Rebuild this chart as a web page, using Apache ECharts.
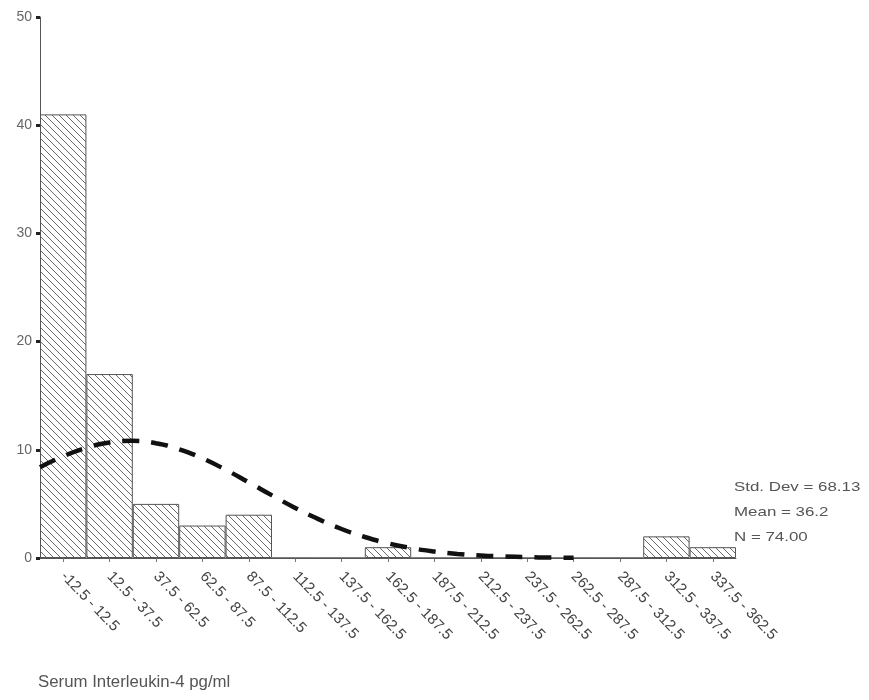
<!DOCTYPE html>
<html>
<head>
<meta charset="utf-8">
<script src="https://cdn.jsdelivr.net/npm/echarts@6/dist/echarts.min.js"></script>
<style>html,body{margin:0;padding:0;background:#fff;}#c{width:869px;height:700px;}</style>
</head>
<body>
<div id="c"></div>
<script>
const categories = ['-12.5 - 12.5','12.5 - 37.5','37.5 - 62.5','62.5 - 87.5','87.5 - 112.5','112.5 - 137.5','137.5 - 162.5','162.5 - 187.5','187.5 - 212.5','212.5 - 237.5','237.5 - 262.5','262.5 - 287.5','287.5 - 312.5','312.5 - 337.5','337.5 - 362.5'];
const counts = [41, 17, 5, 3, 4, 0, 0, 1, 0, 0, 0, 0, 0, 2, 1];
const curveX = [-12.5, 0, 12.5, 25, 37.5, 50, 62.5, 75, 87.5, 100, 112.5, 125, 137.5, 150, 162.5, 175, 187.5, 200, 212.5, 225, 237.5, 250, 262.5, 275];
const curveY = [8.39, 9.40, 10.19, 10.68, 10.83, 10.61, 10.05, 9.21, 8.16, 6.99, 5.79, 4.63, 3.59, 2.68, 1.94, 1.36, 0.92, 0.60, 0.38, 0.23, 0.14, 0.08, 0.04, 0.02];
const yTicks = [0, 10, 20, 30, 40, 50];
const statLines = ['Std. Dev = 68.13', 'Mean = 36.2', 'N = 74.00'];
const xTitle = 'Serum Interleukin-4 pg/ml';

(function () {
const pc = document.createElement('canvas');
pc.width = 7; pc.height = 7;
const g = pc.getContext('2d');
g.fillStyle = '#ffffff'; g.fillRect(0,0,7,7);
g.strokeStyle = '#6a6a6a'; g.lineWidth = 1;
g.beginPath();
g.moveTo(-1,-1); g.lineTo(8,8);
g.moveTo(-1,6); g.lineTo(1,8);
g.moveTo(6,-1); g.lineTo(8,1);
g.stroke();

const chart = echarts.init(document.getElementById('c'), null, {renderer:'canvas'});
const gl = 40, gr = 133, gt = 17, gb = 142;
const font = 'Liberation Sans, Arial, sans-serif';
const txt = (s, x, y, size, sx) => ({type: 'text', left: x, top: y, scaleX: sx, style: {text: s, fontSize: size, fill: '#555', fontFamily: font}});
chart.setOption({
  animation: false,
  backgroundColor: '#fff',
  grid: {left: gl, right: gr, top: gt, bottom: gb, containLabel: false},
  xAxis: [{
    type: 'category', data: categories, boundaryGap: true,
    axisLine: {show: true, onZero: false, lineStyle: {color: '#555', width: 1}},
    axisTick: {show: true, alignWithLabel: true, length: 4, lineStyle: {color: '#777'}},
    axisLabel: {rotate: -46, margin: 16, fontSize: 15, color: '#444', fontFamily: font, interval: 0},
    splitLine: {show: false}
  }, {
    type: 'value', min: -12.5, max: 362.5, show: false
  }],
  yAxis: {
    type: 'value', min: 0, max: 50, interval: 10,
    axisLine: {show: true, onZero: false, lineStyle: {color: '#555', width: 1}},
    axisTick: {show: true, length: 4, lineStyle: {color: '#222', width: 3}},
    axisLabel: {fontSize: 14, color: '#666', margin: 8, fontFamily: font,
      formatter: v => yTicks.includes(v) ? String(v) : ''},
    splitLine: {show: false}
  },
  series: [{
    type: 'bar', data: counts, barCategoryGap: '0%', xAxisIndex: 0,
    itemStyle: {color: {image: pc, repeat: 'repeat'}, borderColor: '#555', borderWidth: 1},
    silent: true
  }, {
    type: 'line', xAxisIndex: 1, data: curveX.map((x, i) => [x, curveY[i]]),
    smooth: true, symbol: 'none',
    lineStyle: {color: '#111', width: 4.5, type: [17, 12]},
    z: 5, silent: true
  }],
  graphic: [
    txt(statLines[0], 734, 481, 13, 1.3),
    txt(statLines[1], 734, 506, 13, 1.3),
    txt(statLines[2], 734, 531, 13, 1.3),
    txt(xTitle, 38, 675, 16, 1.05)
  ]
});
})();
</script>
</body>
</html>
